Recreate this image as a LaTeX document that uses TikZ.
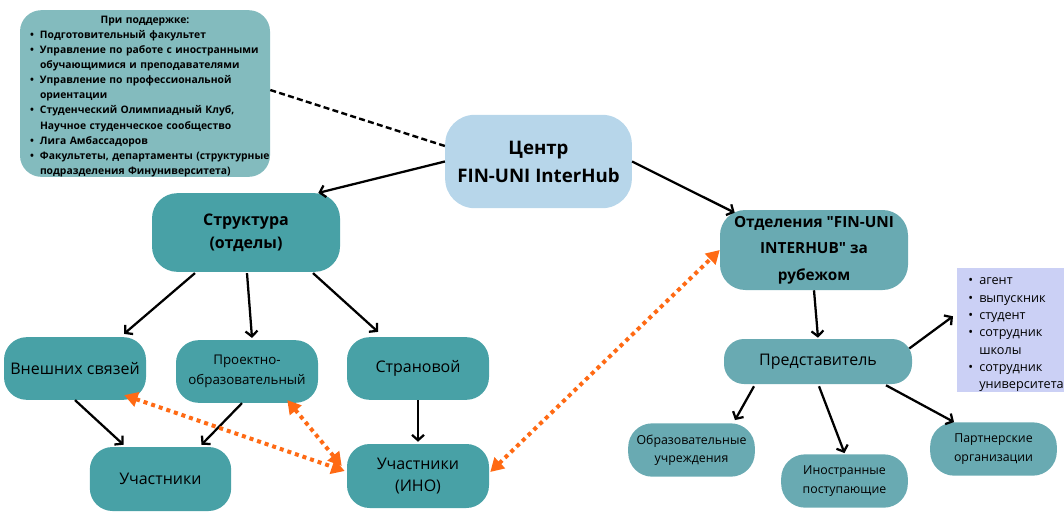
\documentclass[tikz,border=0pt]{standalone}
\usepackage{fontspec}
\setmainfont{Open Sans}
\newfontfamily\qfont{Open Sans}
\usetikzlibrary{arrows.meta,calc}
\definecolor{HubTeal}{HTML}{48A1A6}
\definecolor{HubSea}{HTML}{69AAB2}
\definecolor{HubMist}{HTML}{83BBBE}
\definecolor{HubSky}{HTML}{B7D6EA}
\definecolor{HubLilac}{HTML}{CBD0F5}
\definecolor{HubOrange}{HTML}{FF6A14}

% bullet lines for the two lists
\newcommand{\sitem}[2][7.5pt]{\makebox[#1][l]{\textbullet}\mbox{#2}}
\newcommand{\scont}[2][7.5pt]{\hspace*{#1}\mbox{#2}}
\newcommand{\qq}{{\qfont"}}

\begin{document}
\begin{tikzpicture}[
  x=0.75pt,y=-0.75pt,
  box/.style={rounded corners=17pt,inner sep=2pt,align=center,text=black},
  arrow/.style={-{Straight Barb[length=4pt,width=9pt]},line width=1.7pt},
  dashline/.style={line width=1.8pt,dash pattern=on 4.5pt off 2.5pt},
  biarrow/.style={{Triangle[length=10pt,width=11pt]}-{Triangle[length=10pt,width=11pt]},
    HubOrange,line width=3pt,dash pattern=on 3pt off 3pt}
]
  \useasboundingbox (0,0) rectangle (1064,518);

  \node[box, fill=HubMist, rounded corners=16pt, minimum width=187.5pt, minimum height=125pt,
    text width=172.5pt, inner xsep=7.5pt, inner ysep=0pt, align=left,
    font=\bfseries\fontsize{7.75}{11.3}\selectfont] (sup) at (145,93.5) {%
    \rule{0pt}{10pt}\makebox[172.5pt]{При поддержке:}\\
    \sitem{Подготовительный факультет}\\
    \sitem{Управление по работе с иностранными}\\
    \scont{обучающимися и преподавателями}\\
    \sitem{Управление по профессиональной}\\
    \scont{ориентации}\\
    \sitem{Студенческий Олимпиадный Клуб,}\\
    \scont{Научное студенческое сообщество}\\
    \sitem{Лига Амбассадоров}\\
    \sitem{Факультеты, департаменты (структурные}\\
    \scont{подразделения Финуниверситета)}};

  \node[box, fill=HubSky, rounded corners=22pt, minimum width=140pt, minimum height=70pt,
    font=\bfseries\fontsize{14}{21}\selectfont] (cen) at (538.5,161.5)
    {Центр\\FIN-UNI InterHub};

  \node[box, fill=HubTeal, rounded corners=19pt, minimum width=141pt, minimum height=59pt,
    font=\bfseries\fontsize{12}{17}\selectfont] (struct) at (246,232.5) {Структура\\(отделы)};
  \node[box, fill=HubSea, rounded corners=19pt, minimum width=141pt, minimum height=60pt,
    font=\bfseries\fontsize{11.5}{20}\selectfont] (otd) at (814,250)
    {Отделения \qq FIN-UNI\\INTERHUB\qq\ за\\рубежом};

  \node[box, fill=HubTeal, minimum width=106.5pt, minimum height=47pt,
    font=\fontsize{12}{17}\selectfont] (ext) at (75,368.5) {Внешних связей};
  \node[box, fill=HubTeal, minimum width=106.5pt, minimum height=47pt,
    font=\fontsize{10}{15}\selectfont] (proj) at (247,371.5) {Проектно-\\образовательный};
  \node[box, fill=HubTeal, minimum width=106.5pt, minimum height=47pt,
    font=\fontsize{12}{17}\selectfont] (country) at (418,368.5) {Страновой};
  \node[box, fill=HubTeal, minimum width=106pt, minimum height=48pt,
    font=\fontsize{12}{17}\selectfont] (memb) at (160.5,479) {Участники};
  \node[box, fill=HubTeal, minimum width=106.5pt, minimum height=48pt,
    font=\fontsize{12}{17}\selectfont] (membino) at (418,476) {Участники\\(ИНО)};

  \node[box, fill=HubSea, rounded corners=15pt, minimum width=141pt, minimum height=33.75pt,
    font=\fontsize{12}{16}\selectfont] (rep) at (818,361.5) {Представитель};
  \node[fill=HubLilac, anchor=north west, minimum width=80.25pt, minimum height=93pt,
    text width=63.75pt, inner xsep=8.25pt, inner ysep=0pt, align=left,
    font=\fontsize{9.5}{13}\selectfont] (roles) at (957,268) {%
    \rule{0pt}{12pt}\sitem[8.25pt]{агент}\\
    \sitem[8.25pt]{выпускник}\\
    \sitem[8.25pt]{студент}\\
    \sitem[8.25pt]{сотрудник}\\
    \scont[8.25pt]{школы}\\
    \sitem[8.25pt]{сотрудник}\\
    \scont[8.25pt]{университета}};

  \node[box, fill=HubSea, rounded corners=18pt, minimum width=95pt, minimum height=40pt,
    font=\fontsize{9.25}{13.7}\selectfont] (edu) at (691.5,450) {Образовательные\\учреждения};
  \node[box, fill=HubSea, rounded corners=18pt, minimum width=95pt, minimum height=40pt,
    font=\fontsize{9.25}{13.7}\selectfont] (appl) at (844.5,481) {Иностранные\\поступающие};
  \node[box, fill=HubSea, rounded corners=18pt, minimum width=95pt, minimum height=40pt,
    font=\fontsize{9.25}{13.7}\selectfont] (partner) at (993.5,449) {Партнерские\\организации};

  \draw[dashline] ($(sup.east)+(0,-3.5)$) -- ($(cen.west)+(0,-15.5)$);
  \draw[arrow] (cen.west) -- ($(struct.north east)+(-22,0)$);
  \draw[arrow] (cen.east) -- ($(otd.north west)+(15,3)$);

  \draw[arrow] ($(struct.south)+(-51,1)$) -- ($(ext.north)+(49,-3)$);
  \draw[arrow] ($(struct.south)+(1,1)$) -- ($(proj.north)+(5,-2)$);
  \draw[arrow] ($(struct.south)+(67,1)$) -- ($(country.north)+(-40,-5)$);
  \draw[arrow] (ext.south) -- ($(memb.north)+(-37,-2)$);
  \draw[arrow] ($(proj.south)+(-5,0)$) -- ($(memb.north)+(41,-2)$);
  \draw[arrow] (country.south) -- ($(membino.north)+(0,-2)$);

  \draw[biarrow] ($(ext.south east)+(-22,-5)$) -- ($(membino.west)+(-2,-5)$);
  \draw[biarrow] ($(proj.south east)+(-31,-3)$) -- ($(membino.west)+(-5,-10)$);
  \draw[biarrow] ($(membino.east)+(1,-4)$) -- (otd.west);

  \draw[arrow] (otd.south) -- ($(rep.north)+(0,-1)$);
  \draw[arrow] ($(rep.east)+(-3,-13)$) -- ($(roles.west)+(-4,-14)$);
  \draw[arrow] ($(rep.south)+(-64,2)$) -- ($(edu.north)+(43.5,-3)$);
  \draw[arrow] ($(rep.south)+(1,2)$) -- ($(appl.north)+(0,-1)$);
  \draw[arrow] ($(rep.south)+(68,1)$) -- ($(partner.north)+(-39.5,0)$);
\end{tikzpicture}
\end{document}
